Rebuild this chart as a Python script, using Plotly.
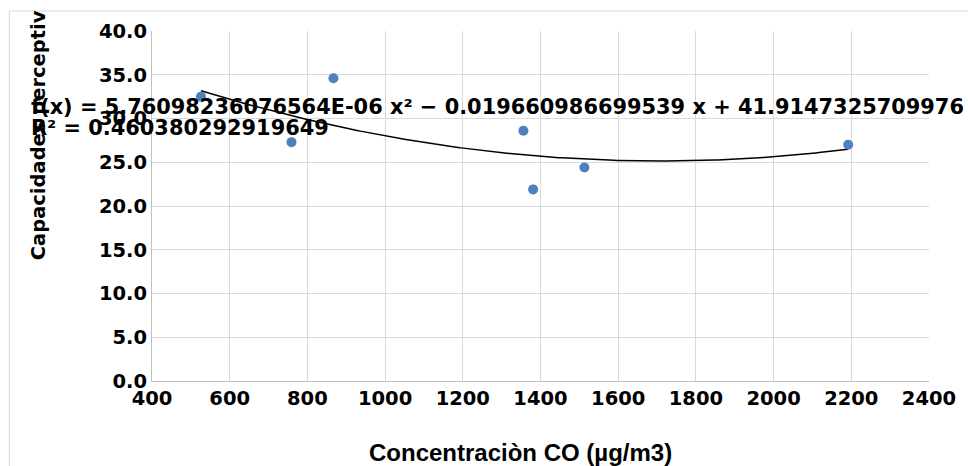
import numpy as np
import plotly.graph_objects as go

# Data
co_conc = [526, 759, 867, 1356, 1381, 1513, 2192]
capacidades = [32.5, 27.3, 34.6, 28.6, 21.9, 24.4, 27.0]

# Trendline coefficients (as printed on the chart)
coef_a = 5.76098236076564e-06
coef_b = -0.019660986699539
coef_c = 41.9147325709976
r_squared = 0.460380292919649

x_ticks = [400, 600, 800, 1000, 1200, 1400, 1600, 1800, 2000, 2200, 2400]
y_ticks = [0, 5, 10, 15, 20, 25, 30, 35, 40]

eq_text = "f(x) = 5.76098236076564E-06 x² − 0.019660986699539 x + 41.9147325709976"
r2_text = "R² = 0.460380292919649"
x_title = "Concentraciòn CO (µg/m3)"
y_title = "Capacidades perceptiv"

W, H = 968, 466
L, R, T, B = 152, 37, 31, 85
pw, ph = W - L - R, H - T - B


def px_x(p):
    return (p - L) / pw


def px_y(p):
    return (H - B - p) / ph


trend_x = np.linspace(min(co_conc), max(co_conc), 200)
trend_y = coef_a * trend_x ** 2 + coef_b * trend_x + coef_c

fig = go.Figure()
fig.add_trace(go.Scatter(
    x=trend_x, y=trend_y, mode="lines",
    line=dict(color="black", width=1.5), hoverinfo="skip", showlegend=False))
fig.add_trace(go.Scatter(
    x=co_conc, y=capacidades, mode="markers",
    marker=dict(color="#4f81bd", size=10), showlegend=False))

tick_font = dict(family="DejaVu Sans", size=19.5, color="black", weight="bold")
eq_font = dict(family="DejaVu Sans", size=20.9, color="black", weight="bold")

fig.update_layout(
    width=W, height=H,
    margin=dict(l=L, r=R, t=T, b=B),
    paper_bgcolor="white", plot_bgcolor="white",
    showlegend=False,
    xaxis=dict(range=[400, 2400], tickvals=x_ticks, ticktext=[str(v) for v in x_ticks],
               showgrid=True, gridcolor="#d9d9d9", gridwidth=1,
               showline=True, linecolor="#bfbfbf", linewidth=1, mirror=False,
               zeroline=False, ticks="", tickfont=tick_font),
    yaxis=dict(range=[0, 40], tickvals=y_ticks, ticktext=[f"{v:.1f}" for v in y_ticks],
               showgrid=True, gridcolor="#d9d9d9", gridwidth=1,
               showline=True, linecolor="#bfbfbf", linewidth=1,
               zeroline=False, ticks="", tickfont=tick_font),
    shapes=[dict(type="rect", xref="paper", yref="paper",
                 x0=px_x(9), x1=px_x(990), y0=px_y(490), y1=px_y(11),
                 line=dict(color="#d9d9d9", width=1), layer="below")],
    annotations=[
        dict(text=eq_text, xref="paper", yref="paper", x=px_x(29), y=px_y(107),
             xanchor="left", yanchor="middle", showarrow=False, font=eq_font),
        dict(text=r2_text, xref="paper", yref="paper", x=px_x(29), y=px_y(128),
             xanchor="left", yanchor="middle", showarrow=False, font=eq_font),
        dict(text=x_title, xref="paper", yref="paper", x=px_x(521), y=px_y(452),
             xanchor="center", yanchor="middle", showarrow=False,
             font=dict(family="Liberation Sans", size=24, color="black", weight="bold")),
        dict(text=y_title, xref="paper", yref="paper", x=px_x(38), y=px_y(262),
             xanchor="center", yanchor="bottom", textangle=-90, showarrow=False,
             font=dict(family="DejaVu Sans", size=19.5, color="black", weight="bold")),
    ],
)

fig.write_html("out.html")
